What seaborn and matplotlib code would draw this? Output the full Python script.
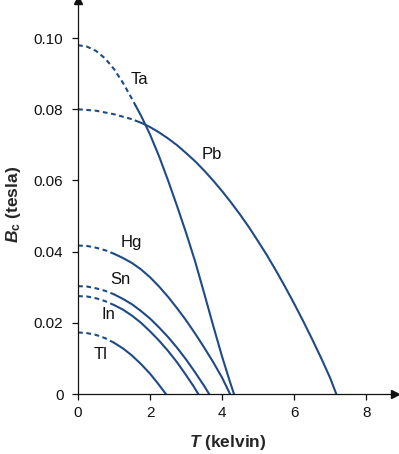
import matplotlib
matplotlib.use("Agg")
import matplotlib.pyplot as plt
import pandas as pd
import seaborn as sns

# values (T in kelvin, Bc in tesla)
# dashed part = extrapolated low-temperature region
ta_dash_t = [0, 0.25, 0.5, 0.75, 1.0, 1.25, 1.5, 1.6]
ta_dash_b = [0.0980, 0.0976, 0.0964, 0.0943, 0.0913, 0.0874, 0.0829, 0.0810]
ta_t = [1.6, 1.75, 2.0, 2.25, 2.5, 2.75, 3.0, 3.25, 3.5, 3.75, 4.0, 4.2, 4.33]
ta_b = [0.0810, 0.0782, 0.0729, 0.0668, 0.0600, 0.0528, 0.0453, 0.0373, 0.0284,
        0.0193, 0.0105, 0.0040, 0.0]

pb_dash_t = [0, 0.5, 1.0, 1.5, 1.6]
pb_dash_b = [0.0800, 0.0796, 0.0786, 0.0772, 0.0768]
pb_t = [1.6, 1.8, 2.0, 2.25, 2.5, 2.75, 3.0, 3.25, 3.5, 3.75, 4.0, 4.25, 4.5,
        4.75, 5.0, 5.25, 5.5, 5.75, 6.0, 6.25, 6.5, 6.75, 7.0, 7.17]
pb_b = [0.0768, 0.0760, 0.0750, 0.0735, 0.0718, 0.0699, 0.0677, 0.0654, 0.0628,
        0.0600, 0.0570, 0.0538, 0.0504, 0.0468, 0.0429, 0.0389, 0.0346, 0.0301,
        0.0254, 0.0205, 0.0154, 0.0101, 0.0045, 0.0]

hg_dash_t = [0, 0.25, 0.5, 0.75, 1.0]
hg_dash_b = [0.0417, 0.0416, 0.0411, 0.0404, 0.0394]
hg_t = [1.0, 1.25, 1.5, 1.75, 2.0, 2.25, 2.5, 2.75, 3.0, 3.25, 3.5, 3.75, 4.0, 4.22]
hg_b = [0.0394, 0.0382, 0.0368, 0.0350, 0.0328, 0.0302, 0.0273, 0.0241, 0.0207,
        0.0170, 0.0131, 0.0090, 0.0046, 0.0]

sn_dash_t = [0, 0.25, 0.5, 0.75, 1.0]
sn_dash_b = [0.0303, 0.0302, 0.0297, 0.0290, 0.0280]
sn_t = [1.0, 1.25, 1.5, 1.75, 2.0, 2.25, 2.5, 2.75, 3.0, 3.25, 3.5, 3.64]
sn_b = [0.0280, 0.0267, 0.0252, 0.0233, 0.0212, 0.0187, 0.0160, 0.0130, 0.0097,
        0.0061, 0.0023, 0.0]

in_dash_t = [0, 0.25, 0.5, 0.75, 1.0]
in_dash_b = [0.0275, 0.0274, 0.0269, 0.0261, 0.0250]
in_t = [1.0, 1.25, 1.5, 1.75, 2.0, 2.25, 2.5, 2.75, 3.0, 3.2, 3.34]
in_b = [0.0250, 0.0237, 0.0220, 0.0200, 0.0176, 0.0150, 0.0121, 0.0089, 0.0053,
        0.0023, 0.0]

tl_dash_t = [0, 0.25, 0.5, 0.75, 1.0]
tl_dash_b = [0.0173, 0.0171, 0.0166, 0.0157, 0.0144]
tl_t = [1.0, 1.25, 1.5, 1.75, 2.0, 2.2, 2.44]
tl_b = [0.0144, 0.0128, 0.0108, 0.0084, 0.0057, 0.0032, 0.0]

metals = ["Ta", "Pb", "Hg", "Sn", "In", "Tl"]
label_t = [1.7, 3.72, 1.47, 1.17, 0.84, 0.64]
label_b = [0.0883, 0.0674, 0.0427, 0.0323, 0.0222, 0.0110]

x_ticks = [0, 2, 4, 6, 8]
y_ticks = [0, 0.02, 0.04, 0.06, 0.08, 0.10]
y_ticklabels = ["0", "0.02", "0.04", "0.06", "0.08", "0.10"]

curves = {
    "Ta": (ta_dash_t, ta_dash_b, ta_t, ta_b),
    "Pb": (pb_dash_t, pb_dash_b, pb_t, pb_b),
    "Hg": (hg_dash_t, hg_dash_b, hg_t, hg_b),
    "Sn": (sn_dash_t, sn_dash_b, sn_t, sn_b),
    "In": (in_dash_t, in_dash_b, in_t, in_b),
    "Tl": (tl_dash_t, tl_dash_b, tl_t, tl_b),
}

rows = []
for m, (dt, db, st, sb) in curves.items():
    for t, b in zip(dt, db):
        rows.append((m, "dash", t, b))
    for t, b in zip(st, sb):
        rows.append((m, "solid", t, b))
df = pd.DataFrame(rows, columns=["metal", "part", "T", "B"])

sns.set_style("white")
plt.rcParams["font.family"] = ["Liberation Sans", "DejaVu Sans"]
plt.rcParams["mathtext.fontset"] = "custom"
plt.rcParams["mathtext.rm"] = "Liberation Sans"
plt.rcParams["mathtext.it"] = "Liberation Sans:italic"
plt.rcParams["mathtext.bf"] = "Liberation Sans:bold"
plt.rcParams["mathtext.bfit"] = "Liberation Sans:italic:bold"

color = "#1f4a86"

fig = plt.figure(figsize=(3.99, 4.54), dpi=100)
ax = fig.add_axes([78 / 399, 1 - 394 / 454, 317 / 399, 394 / 454])

for m in metals:
    d = df[(df["metal"] == m) & (df["part"] == "dash")]
    sns.lineplot(data=d, x="T", y="B", ax=ax, color=color, lw=1.5,
                 sort=False, estimator=None, linestyle=(0, (2.3, 1.7)))
    s = df[(df["metal"] == m) & (df["part"] == "solid")]
    sns.lineplot(data=s, x="T", y="B", ax=ax, color=color, lw=1.5,
                 sort=False, estimator=None)

for m, t, b in zip(metals, label_t, label_b):
    ax.text(t, b, m, fontsize=12, ha="center", va="center", color="#111111")

ax.set_xlim(0, 8.8)
ax.set_ylim(0, 0.1107)
ax.set_xticks(x_ticks)
ax.set_xticklabels([str(x) for x in x_ticks])
ax.set_yticks(y_ticks)
ax.set_yticklabels(y_ticklabels)
ax.tick_params(axis="both", direction="out", length=4.5, width=0.9,
               labelsize=11, colors="#111111", bottom=True, left=True)
ax.tick_params(axis="y", pad=6)
ax.tick_params(axis="x", pad=4)

for side in ["top", "right"]:
    ax.spines[side].set_visible(False)
for side in ["left", "bottom"]:
    ax.spines[side].set_color("#111111")
    ax.spines[side].set_linewidth(0.9)

# arrow heads at the ends of the axes
ax.plot(1, 0, ">", color="#111111", markersize=6, transform=ax.transAxes, clip_on=False)
ax.plot(0, 1, "^", color="#111111", markersize=6, transform=ax.transAxes, clip_on=False)

ax.set_xlabel(r"$\mathbfit{T}$ (kelvin)", fontsize=12.5, fontweight="bold")
ax.set_ylabel(r"$\mathbfit{B}_{\mathbf{c}}$ (tesla)", fontsize=12.5, fontweight="bold")
ax.xaxis.set_label_coords(0.473, -0.098)
ax.yaxis.set_label_coords(-0.172, 0.48)

fig.savefig("out.png", dpi=100)
